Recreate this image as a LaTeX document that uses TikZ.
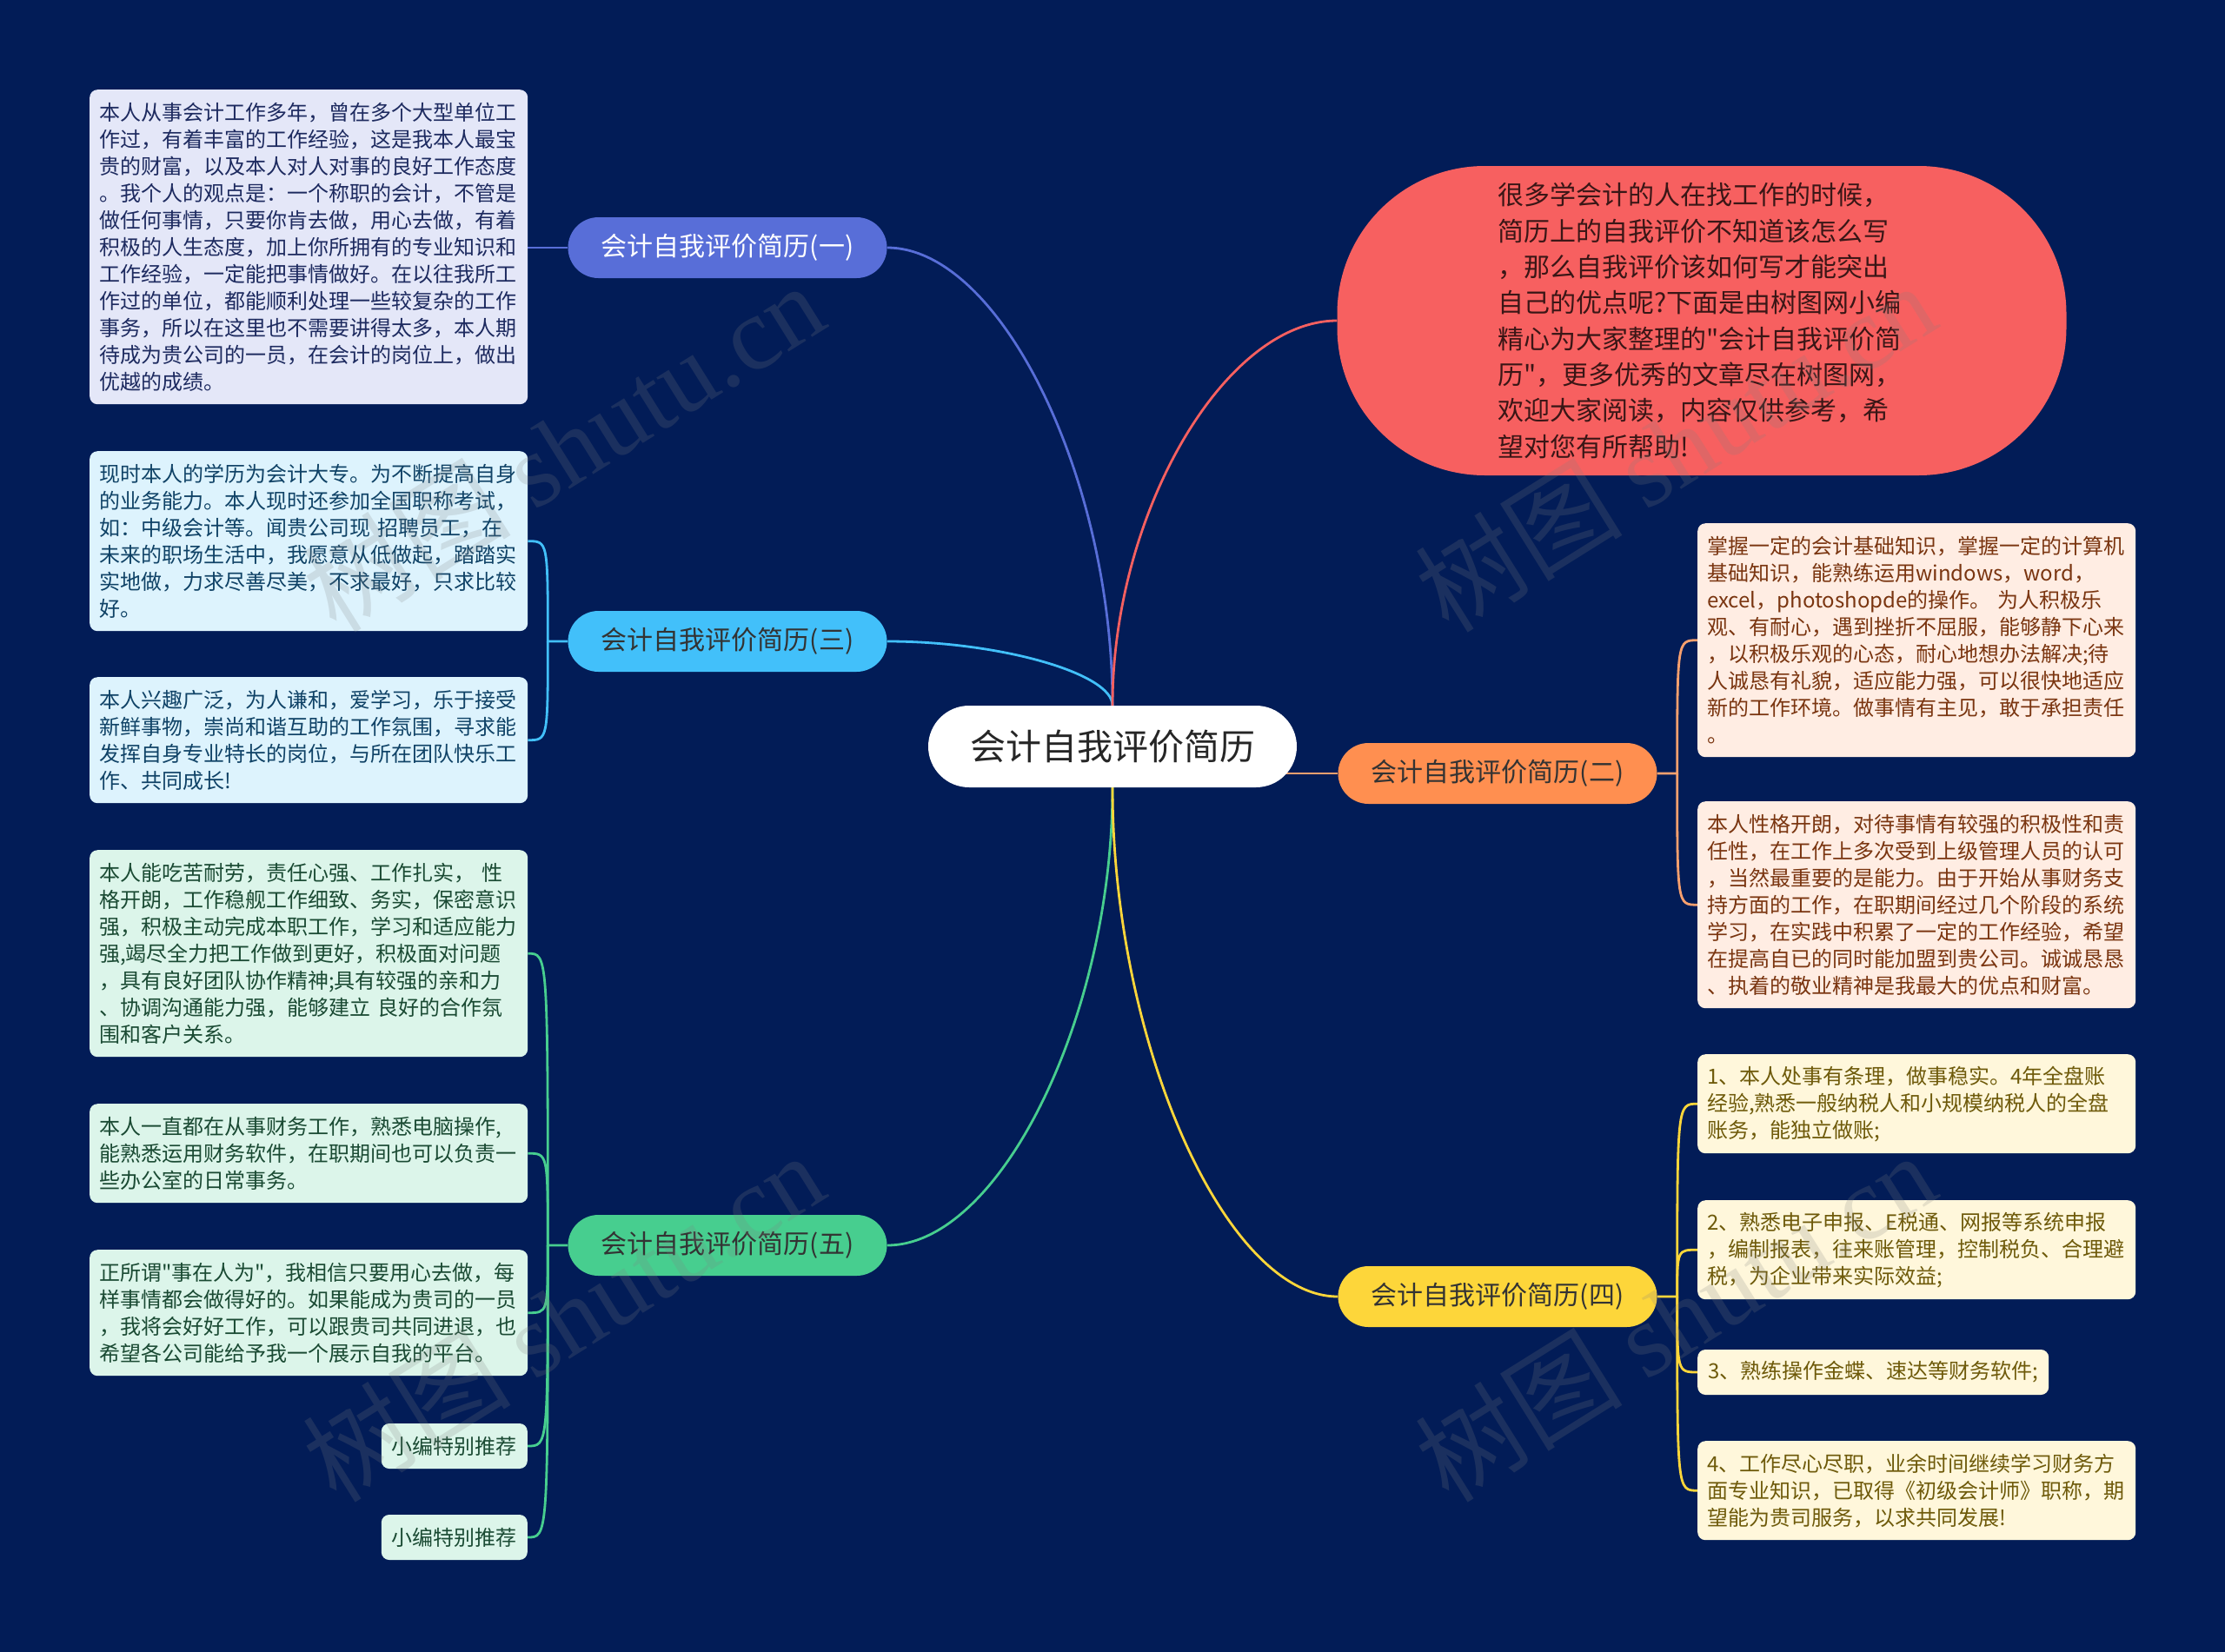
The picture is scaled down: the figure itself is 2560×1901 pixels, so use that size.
\documentclass[tikz,border=0pt]{standalone}
\usepackage{fontspec}
\setmainfont{Noto Sans CJK SC}
\newfontfamily\cjkf{Noto Sans CJK SC}
\newfontfamily\wmfont{Liberation Serif}
\usetikzlibrary{backgrounds,calc}
\definecolor{bgcol}{RGB}{2,28,87}
\definecolor{cone}{RGB}{88,110,216}
\definecolor{cthree}{RGB}{66,192,250}
\definecolor{cfive}{RGB}{71,206,143}
\definecolor{ctwo}{RGB}{255,143,80}
\definecolor{ctwol}{RGB}{247,160,110}
\definecolor{cfour}{RGB}{253,214,58}
\definecolor{cred}{RGB}{247,96,96}
\definecolor{fone}{RGB}{228,231,248}
\definecolor{fthree}{RGB}{221,243,253}
\definecolor{ffive}{RGB}{220,245,234}
\definecolor{ftwo}{RGB}{255,237,227}
\definecolor{ffour}{RGB}{255,247,219}
\definecolor{tone}{RGB}{29,42,95}
\definecolor{tthree}{RGB}{15,66,102}
\definecolor{tfive}{RGB}{26,74,51}
\definecolor{ttwo}{RGB}{122,53,16}
\definecolor{tfour}{RGB}{110,90,10}
\definecolor{tred}{RGB}{58,22,22}
\begin{document}
\begin{tikzpicture}[x=1pt,y=-1pt,
  branch/.style={rounded corners=35pt, minimum width=367pt, minimum height=70pt, inner sep=0pt, font=\cjkf\fontsize{30pt}{36pt}\selectfont},
  leaf/.style={rounded corners=9pt, inner xsep=11pt, inner ysep=0pt, align=left, text width=482pt, font=\cjkf\fontsize{24pt}{31pt}\selectfont, anchor=north west},
  smallbox/.style={rounded corners=9pt, inner xsep=12pt, inner ysep=0pt, minimum height=52pt, font=\cjkf\fontsize{24pt}{31pt}\selectfont},
  nl/.style={minimum height={21pt+#1*31pt}},
  gone/.style={fill=fone, text=tone},
  gthree/.style={fill=fthree, text=tthree},
  gfive/.style={fill=ffive, text=tfive},
  gtwo/.style={fill=ftwo, text=ttwo},
  gfour/.style={fill=ffour, text=tfour},
  conn/.style={line width=2.8pt},
  wm/.style={text=gray, opacity=0.2, font=\cjkf\fontsize{120pt}{130pt}\selectfont, inner sep=0pt}
]
\useasboundingbox (0,0) rectangle (2560,1901);

% central and main nodes
\node[fill=white, rounded corners=47pt, minimum width=424pt, minimum height=94pt, inner sep=0pt, text=black!85, font=\cjkf\fontsize{41pt}{48pt}\selectfont] (c) at (1280,859) {会计自我评价简历};
\node[branch, fill=cone, text=white] (b1) at (837,285) {会计自我评价简历(一)};
\node[branch, fill=cthree, text=black!80] (b3) at (837,738) {会计自我评价简历(三)};
\node[branch, fill=cfive, text=black!80] (b5) at (837,1433) {会计自我评价简历(五)};
\node[branch, fill=ctwo, text=black!80] (b2) at (1723,890) {会计自我评价简历(二)};
\node[branch, fill=cfour, text=black!80] (b4) at (1723,1492) {会计自我评价简历(四)};
\node[fill=cred, rounded corners=170pt, minimum width=839pt, minimum height=356pt, text width=470pt, align=left, text=tred, font=\cjkf\fontsize{30pt}{41.3pt}\selectfont] (e) at (1958,369) {很多学会计的人在找工作的时候，\\简历上的自我评价不知道该怎么写\\，那么自我评价该如何写才能突出\\自己的优点呢?下面是由树图网小编\\精心为大家整理的"会计自我评价简\\历"，更多优秀的文章尽在树图网，\\欢迎大家阅读，内容仅供参考，希\\望对您有所帮助!};

% left leaves
\node[leaf, gone, nl=11] (l1) at (103,103) {本人从事会计工作多年，曾在多个大型单位工\\作过，有着丰富的工作经验，这是我本人最宝\\贵的财富，以及本人对人对事的良好工作态度\\。我个人的观点是：一个称职的会计，不管是\\做任何事情，只要你肯去做，用心去做，有着\\积极的人生态度，加上你所拥有的专业知识和\\工作经验，一定能把事情做好。在以往我所工\\作过的单位，都能顺利处理一些较复杂的工作\\事务，所以在这里也不需要讲得太多，本人期\\待成为贵公司的一员，在会计的岗位上，做出\\优越的成绩。};
\node[leaf, gthree, nl=6] (l3a) at (103,519) {现时本人的学历为会计大专。为不断提高自身\\的业务能力。本人现时还参加全国职称考试，\\如：中级会计等。闻贵公司现 招聘员工，在\\未来的职场生活中，我愿意从低做起，踏踏实\\实地做，力求尽善尽美，不求最好，只求比较\\好。};
\node[leaf, gthree, nl=4] (l3b) at (103,779) {本人兴趣广泛，为人谦和，爱学习，乐于接受\\新鲜事物，崇尚和谐互助的工作氛围，寻求能\\发挥自身专业特长的岗位，与所在团队快乐工\\作、共同成长!};
\node[leaf, gfive, nl=7] (l5a) at (103,978) {本人能吃苦耐劳，责任心强、工作扎实， 性\\格开朗，工作稳舰工作细致、务实，保密意识\\强，积极主动完成本职工作，学习和适应能力\\强,竭尽全力把工作做到更好，积极面对问题\\，具有良好团队协作精神;具有较强的亲和力\\、协调沟通能力强，能够建立 良好的合作氛\\围和客户关系。};
\node[leaf, gfive, nl=3] (l5b) at (103,1270) {本人一直都在从事财务工作，熟悉电脑操作,\\能熟悉运用财务软件，在职期间也可以负责一\\些办公室的日常事务。};
\node[leaf, gfive, nl=4] (l5c) at (103,1438) {正所谓"事在人为"，我相信只要用心去做，每\\样事情都会做得好的。如果能成为贵司的一员\\，我将会好好工作，可以跟贵司共同进退，也\\希望各公司能给予我一个展示自我的平台。};
\node[smallbox, gfive, anchor=east] (l5d) at (607,1664) {小编特别推荐};
\node[smallbox, gfive, anchor=east] (l5e) at (607,1769) {小编特别推荐};

% right leaves
\node[leaf, gtwo, nl=8] (r2a) at (1953,602) {掌握一定的会计基础知识，掌握一定的计算机\\基础知识，能熟练运用windows，word，\\excel，photoshopde的操作。 为人积极乐\\观、有耐心，遇到挫折不屈服，能够静下心来\\，以积极乐观的心态，耐心地想办法解决;待\\人诚恳有礼貌，适应能力强，可以很快地适应\\新的工作环境。做事情有主见，敢于承担责任\\。};
\node[leaf, gtwo, nl=7] (r2b) at (1953,922) {本人性格开朗，对待事情有较强的积极性和责\\任性，在工作上多次受到上级管理人员的认可\\，当然最重要的是能力。由于开始从事财务支\\持方面的工作，在职期间经过几个阶段的系统\\学习，在实践中积累了一定的工作经验，希望\\在提高自已的同时能加盟到贵公司。诚诚恳恳\\、执着的敬业精神是我最大的优点和财富。};
\node[leaf, gfour, nl=3] (r4a) at (1953,1213) {1、本人处事有条理，做事稳实。4年全盘账\\经验,熟悉一般纳税人和小规模纳税人的全盘\\账务，能独立做账;};
\node[leaf, gfour, nl=3] (r4b) at (1953,1381) {2、熟悉电子申报、E税通、网报等系统申报\\，编制报表，往来账管理，控制税负、合理避\\税，为企业带来实际效益;};
\node[smallbox, gfour, anchor=west] (r4c) at (1953,1579) {3、熟练操作金蝶、速达等财务软件;};
\node[leaf, gfour, nl=3] (r4d) at (1953,1658) {4、工作尽心尽职，业余时间继续学习财务方\\面专业知识，已取得《初级会计师》职称，期\\望能为贵司服务，以求共同发展!};

% trunk points
\coordinate (t3) at ($(b3.west)+(-23,0)$);
\coordinate (t5) at ($(b5.west)+(-23,0)$);
\coordinate (t2) at ($(b2.east)+(23,0)$);
\coordinate (t4) at ($(b4.east)+(23,0)$);

\begin{scope}[on background layer]
\fill[bgcol] (0,0) rectangle (2560,1901);
% main connectors
\draw[conn, cone] (c.north) .. controls ($(c.north)!0.5!(c.north |- b1.east)$) and ($(b1.east)!0.5!(b1.east -| c.north)$) .. (b1.east);
\draw[conn, cthree] (c.north) .. controls ($(c.north)!0.5!(c.north |- b3.east)$) and ($(b3.east)!0.5!(b3.east -| c.north)$) .. (b3.east);
\draw[conn, cfive] (c.south) .. controls ($(c.south)!0.5!(c.south |- b5.east)$) and ($(b5.east)!0.5!(b5.east -| c.south)$) .. (b5.east);
\draw[conn, cred] (c.north) .. controls ($(c.north)!0.5!(c.north |- e.west)$) and ($(e.west)!0.5!(e.west -| c.north)$) .. (e.west);
\draw[conn, cfour] (c.south) .. controls ($(c.south)!0.5!(c.south |- b4.west)$) and ($(b4.west)!0.5!(b4.west -| c.south)$) .. (b4.west);
\draw[conn, ctwol] (c.center |- b2.west) -- (b2.west);
% sub connectors
\draw[conn, cone] (b1.west) -- (b1.west -| l1.east);
\draw[conn, cthree] (b3.west) -- (t3) .. controls (t3 |- l3a.east) .. (l3a.east);
\draw[conn, cthree] (t3) .. controls (t3 |- l3b.east) .. (l3b.east);
\draw[conn, cfive] (b5.west) -- (t5) .. controls (t5 |- l5a.east) .. (l5a.east);
\draw[conn, cfive] (t5) .. controls (t5 |- l5b.east) .. (l5b.east);
\draw[conn, cfive] (t5) .. controls (t5 |- l5c.east) .. (l5c.east);
\draw[conn, cfive] (t5) .. controls (t5 |- l5d.east) .. (l5d.east);
\draw[conn, cfive] (t5) .. controls (t5 |- l5e.east) .. (l5e.east);
\draw[conn, ctwol] (b2.east) -- (t2) .. controls (t2 |- r2a.west) .. (r2a.west);
\draw[conn, ctwol] (t2) .. controls (t2 |- r2b.west) .. (r2b.west);
\draw[conn, cfour] (b4.east) -- (t4) .. controls (t4 |- r4a.west) .. (r4a.west);
\draw[conn, cfour] (t4) .. controls (t4 |- r4b.west) .. (r4b.west);
\draw[conn, cfour] (t4) .. controls (t4 |- r4c.west) .. (r4c.west);
\draw[conn, cfour] (t4) .. controls (t4 |- r4d.west) .. (r4d.west);
\end{scope}

% watermarks
\node[wm, rotate=32] (w1) at (648,514) {树图 {\wmfont shutu.cn}};
\node[wm, rotate=32] (w2) at (1927,514) {树图 {\wmfont shutu.cn}};
\node[wm, rotate=32] (w3) at (648,1515) {树图 {\wmfont shutu.cn}};
\node[wm, rotate=32] (w4) at (1927,1515) {树图 {\wmfont shutu.cn}};
\end{tikzpicture}
\end{document}
